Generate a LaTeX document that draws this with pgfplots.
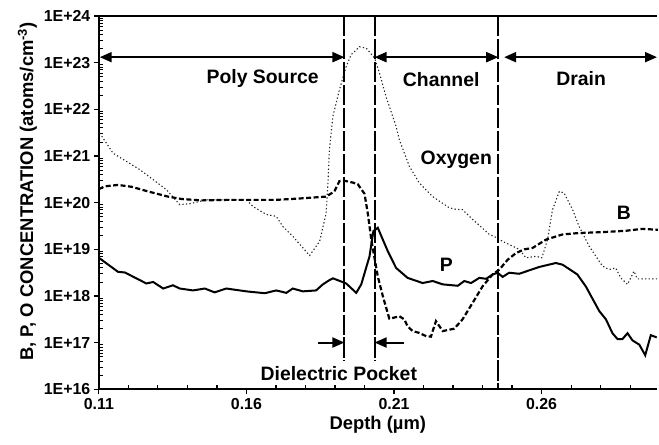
\documentclass[border=0pt]{standalone}
\usepackage{pgfplots}
\pgfplotsset{compat=1.18}
\usepackage{fontspec}
\setmainfont{Liberation Sans}
\usetikzlibrary{arrows.meta}

% dopant / oxygen depth profiles (log scale)
\pgfplotstableread{
x      c
0.1100 6.6e18
0.1165 3.3e18
0.1188 3.2e18
0.1261 1.86e18
0.1284 2.0e18
0.1318 1.45e18
0.1351 1.7e18
0.1374 1.45e18
0.1419 1.32e18
0.1459 1.45e18
0.1492 1.2e18
0.1532 1.45e18
0.1600 1.26e18
0.1662 1.15e18
0.1701 1.32e18
0.1735 1.17e18
0.1757 1.45e18
0.1791 1.26e18
0.1836 1.32e18
0.1859 1.78e18
0.1881 2.19e18
0.1893 2.4e18
0.1938 1.86e18
0.1972 1.17e18
0.1989 1.78e18
0.2017 7.1e18
0.2030 2.45e19
0.2045 2.9e19
0.2079 9.1e18
0.2107 4.0e18
0.2146 2.45e18
0.2197 1.9e18
0.2231 2.1e18
0.2265 1.78e18
0.2316 1.66e18
0.2338 2.1e18
0.2361 1.9e18
0.2389 2.45e18
0.2412 2.34e18
0.2434 2.9e18
0.2451 3.16e18
0.2468 2.57e18
0.2490 3.16e18
0.2524 3.0e18
0.2558 3.55e18
0.2592 4.2e18
0.2648 5.1e18
0.2671 4.7e18
0.2721 2.9e18
0.2750 1.6e18
0.2795 4.8e17
0.2818 3.16e17
0.2840 1.6e17
0.2857 1.2e17
0.2874 1.2e17
0.2891 1.6e17
0.2908 1.12e17
0.2931 9.1e16
0.2951 5.4e16
0.2970 1.45e17
0.2990 1.3e17
}\phos

\pgfplotstableread{
x      c
0.1100 1.95e20
0.1120 2.24e20
0.1165 2.4e20
0.1211 2.19e20
0.1267 1.74e20
0.1334 1.35e20
0.1380 1.2e20
0.1447 1.12e20
0.1537 1.15e20
0.1600 1.15e20
0.1628 1.15e20
0.1701 1.15e20
0.1780 1.23e20
0.1870 1.35e20
0.1898 1.74e20
0.1915 2.9e20
0.1932 2.95e20
0.1960 2.7e20
0.1977 2.5e20
0.2000 1.55e20
0.2011 6.0e19
0.2023 1.62e19
0.2045 2.63e18
0.2062 1.0e18
0.2084 3.3e17
0.2096 3.4e17
0.2118 3.7e17
0.2135 3.16e17
0.2146 2.24e17
0.2163 1.78e17
0.2186 1.62e17
0.2209 1.38e17
0.2225 1.35e17
0.2242 2.9e17
0.2265 1.78e17
0.2304 2.0e17
0.2332 3.16e17
0.2366 7.1e17
0.2400 1.62e18
0.2434 2.9e18
0.2457 3.7e18
0.2485 6.0e18
0.2513 8.3e18
0.2541 1.0e19
0.2569 1.07e19
0.2615 1.62e19
0.2671 2.09e19
0.2727 2.24e19
0.2806 2.34e19
0.2885 2.5e19
0.2941 2.75e19
0.2994 2.63e19
}\boron

\pgfplotstableread{
x      c
0.1103 3.1e21
0.1148 1.15e21
0.1239 5.1e20
0.1329 1.9e20
0.1374 9.1e19
0.1408 9.5e19
0.1464 1.15e20
0.1554 1.15e20
0.1600 1.15e20
0.1622 8.3e19
0.1667 5.6e19
0.1701 5.1e19
0.1723 3.1e19
0.1757 1.9e19
0.1814 7.4e18
0.1848 1.48e19
0.1870 6.0e19
0.1876 2.5e20
0.1881 1.35e21
0.1893 7.1e21
0.1915 2.63e22
0.1938 8.3e22
0.1955 1.48e23
0.1983 2.19e23
0.2006 2.04e23
0.2034 1.26e23
0.2051 5.9e22
0.2073 1.86e22
0.2107 4.3e21
0.2118 2.24e21
0.2152 6.0e20
0.2186 2.63e20
0.2231 1.35e20
0.2287 7.8e19
0.2310 7.2e19
0.2332 7.1e19
0.2366 4.4e19
0.2423 2.09e19
0.2451 1.74e19
0.2468 1.48e19
0.2502 1.17e19
0.2524 1.0e19
0.2547 6.6e18
0.2581 7.1e18
0.2601 6.6e18
0.2620 1.62e19
0.2637 7.1e19
0.2660 1.74e20
0.2676 1.62e20
0.2705 7.1e19
0.2727 3.1e19
0.2761 1.17e19
0.2806 4.4e18
0.2829 3.7e18
0.2851 4.0e18
0.2868 2.45e18
0.2891 1.78e18
0.2913 3.4e18
0.2924 2.34e18
0.2994 2.34e18
}\oxygen

\begin{document}
\begin{tikzpicture}
\begin{axis}[
    scale only axis,
    width=558.7bp, height=374bp,
    xmin=0.11, xmax=0.299,
    ymode=log, ymin=1e16, ymax=1e24,
    axis x line*=bottom, axis y line*=left,
    axis line style={line width=2bp},
    xtick={0.11,0.16,0.21,0.26},
    xticklabels={0.11,0.16,0.21,0.26},
    minor xtick={0.12,0.13,0.14,0.15,0.17,0.18,0.19,0.20,0.22,0.23,0.24,0.25,0.27,0.28,0.29},
    ytick={1e16,1e17,1e18,1e19,1e20,1e21,1e22,1e23,1e24},
    yticklabels={1E+16,1E+17,1E+18,1E+19,1E+20,1E+21,1E+22,1E+23,1E+24},
    minor ytick={2e16,3e16,4e16,5e16,6e16,7e16,8e16,9e16,
                 2e17,3e17,4e17,5e17,6e17,7e17,8e17,9e17,
                 2e18,3e18,4e18,5e18,6e18,7e18,8e18,9e18,
                 2e19,3e19,4e19,5e19,6e19,7e19,8e19,9e19,
                 2e20,3e20,4e20,5e20,6e20,7e20,8e20,9e20,
                 2e21,3e21,4e21,5e21,6e21,7e21,8e21,9e21,
                 2e22,3e22,4e22,5e22,6e22,7e22,8e22,9e22,
                 2e23,3e23,4e23,5e23,6e23,7e23,8e23,9e23},
    tick align=outside,
    major tick length=5bp, minor tick length=3.5bp,
    tick style={black, line width=1.2bp},
    minor x tick style={yshift=4.5bp},
    minor y tick style={xshift=4.5bp, line width=0.9bp},
    tick label style={font=\fontsize{16}{18}\selectfont\bfseries},
    xlabel={Depth (µm)},
    ylabel={B, P, O CONCENTRATION (atoms/cm\textsuperscript{-3})},
    label style={font=\fontsize{18.5}{20}\selectfont\bfseries},
    ylabel style={at={(ticklabel cs:0.53)}},
    clip=false,
  ]
  \draw[line width=2bp] (rel axis cs:0,1) -- (rel axis cs:1,1);

  \addplot[black!85, line width=1.1bp, dash pattern=on 1.3bp off 2.3bp] table[x=x, y=c] {\oxygen};
  \addplot[black, line width=2.2bp, dash pattern=on 5bp off 2.5bp] table[x=x, y=c] {\boron};
  \addplot[black, line width=2bp] table[x=x, y=c] {\phos};

  % region boundaries
  \draw[line width=2bp, dash pattern=on 20.5bp off 2.5bp] (axis cs:0.1932,1e24) -- (axis cs:0.1932,4e16);
  \draw[line width=2bp, dash pattern=on 20.5bp off 2.5bp] (axis cs:0.2034,1e24) -- (axis cs:0.2034,4e16);
  \draw[line width=2bp, dash pattern=on 20.5bp off 2.5bp] (axis cs:0.2453,1e24) -- (axis cs:0.2453,1e16);

  \tikzset{tri/.style={line width=2bp, arrows={Triangle[length=12bp,width=10bp]-Triangle[length=12bp,width=10bp]}}}
  \draw[tri] (axis cs:0.1103,1.31e23) -- (axis cs:0.1932,1.31e23);
  \draw[tri] (axis cs:0.2034,1.31e23) -- (axis cs:0.2453,1.31e23);
  \draw[tri] (axis cs:0.2473,1.31e23) -- (axis cs:0.2991,1.31e23);
  \draw[line width=2bp, -{Triangle[length=12bp,width=10bp]}] (axis cs:0.1842,1.01e17) -- (axis cs:0.1932,1.01e17);
  \draw[line width=2bp, -{Triangle[length=12bp,width=10bp]}] (axis cs:0.2135,1.01e17) -- (axis cs:0.2034,1.01e17);

  \begin{scope}[every node/.style={font=\fontsize{19.5}{22}\selectfont\bfseries, inner sep=0pt}]
    \node at (axis cs:0.1655,4.5e22) {Poly Source};
    \node at (axis cs:0.2260,4.3e22) {Channel};
    \node at (axis cs:0.2734,4.5e22) {Drain};
    \node at (axis cs:0.2311,8.3e20) {Oxygen};
    \node at (axis cs:0.2879,6.2e19) {B};
    \node at (axis cs:0.2277,4.7e18) {P};
    \node at (axis cs:0.1913,2.2e16) {Dielectric Pocket};
  \end{scope}
\end{axis}
\path (current axis.south west) ++(-99bp,-55bp) rectangle ++(659bp,445bp);
\end{tikzpicture}
\end{document}
